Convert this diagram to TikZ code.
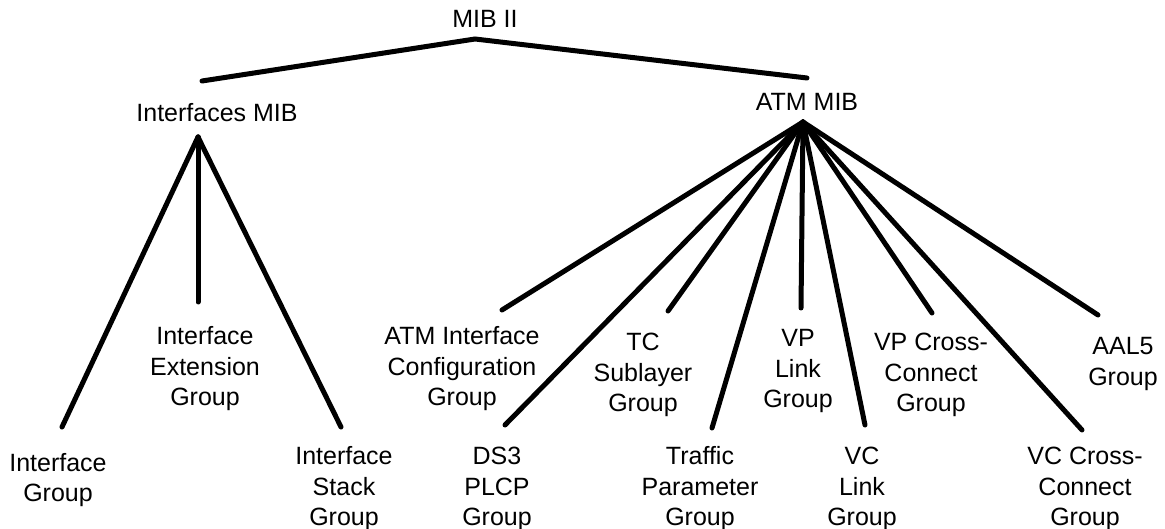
\documentclass[tikz,border=0pt]{standalone}
\usepackage{fontspec}
\setmainfont{Liberation Sans}

\begin{document}
\begin{tikzpicture}[x=1pt, y=-1pt,
    lbl/.style={align=center, inner sep=0pt, font=\fontsize{25}{30.5}\selectfont},
    branch/.style={line width=5pt, line cap=round}]
  \useasboundingbox (0,0) rectangle (1165,529);

  % MIB II and its two subtrees
  \node[lbl] (mib) at (485,19) {MIB II};
  \node[lbl] (ifmib) at (217,113) {Interfaces MIB};
  \node[lbl] (atmmib) at (807,102) {ATM MIB};

  \coordinate (mibtop) at (475,39);
  \coordinate (ifjoin) at (202,81);
  \coordinate (atmjoin) at (807,78);
  \coordinate (ifapex) at (198,137);
  \coordinate (atmapex) at (803,122);

  \draw[branch] (ifjoin) -- (mibtop) -- (atmjoin);

  % Interfaces MIB groups
  \node[lbl] (ifgrp) at (58,480) {Interface\\Group};
  \node[lbl] (ifext) at (205,369) {Interface\\Extension\\Group};
  \node[lbl] (ifstack) at (344,489) {Interface\\Stack\\Group};

  \coordinate (e-ifgrp) at (62,427);
  \coordinate (e-ifext) at (198,302);
  \coordinate (e-ifstack) at (341,427);

  \foreach \g in {ifgrp,ifext,ifstack}
    \draw[branch] (ifapex) -- (e-\g);

  % ATM MIB groups
  \node[lbl] (atmcfg) at (462,369) {ATM Interface\\Configuration\\Group};
  \node[lbl] (ds3) at (497,489) {DS3\\PLCP\\Group};
  \node[lbl] (tcsub) at (643,375) {TC\\Sublayer\\Group};
  \node[lbl] (traffic) at (700,489) {Traffic\\Parameter\\Group};
  \node[lbl] (vplink) at (798,371) {VP\\Link\\Group};
  \node[lbl] (vclink) at (862,489) {VC\\Link\\Group};
  \node[lbl] (vpcc) at (931,375) {VP Cross-\\Connect\\Group};
  \node[lbl] (vccc) at (1085,489) {VC Cross-\\Connect\\Group};
  \node[lbl] (aal5) at (1123,364) {AAL5\\Group};

  \coordinate (e-atmcfg) at (502,310);
  \coordinate (e-ds3) at (505,425);
  \coordinate (e-tcsub) at (668,311);
  \coordinate (e-traffic) at (712,428);
  \coordinate (e-vplink) at (801,308);
  \coordinate (e-vclink) at (865,425);
  \coordinate (e-vpcc) at (932,313);
  \coordinate (e-vccc) at (1082,430);
  \coordinate (e-aal5) at (1098,315);

  \foreach \g in {atmcfg,ds3,tcsub,traffic,vplink,vclink,vpcc,vccc,aal5}
    \draw[branch] (atmapex) -- (e-\g);
\end{tikzpicture}
\end{document}
